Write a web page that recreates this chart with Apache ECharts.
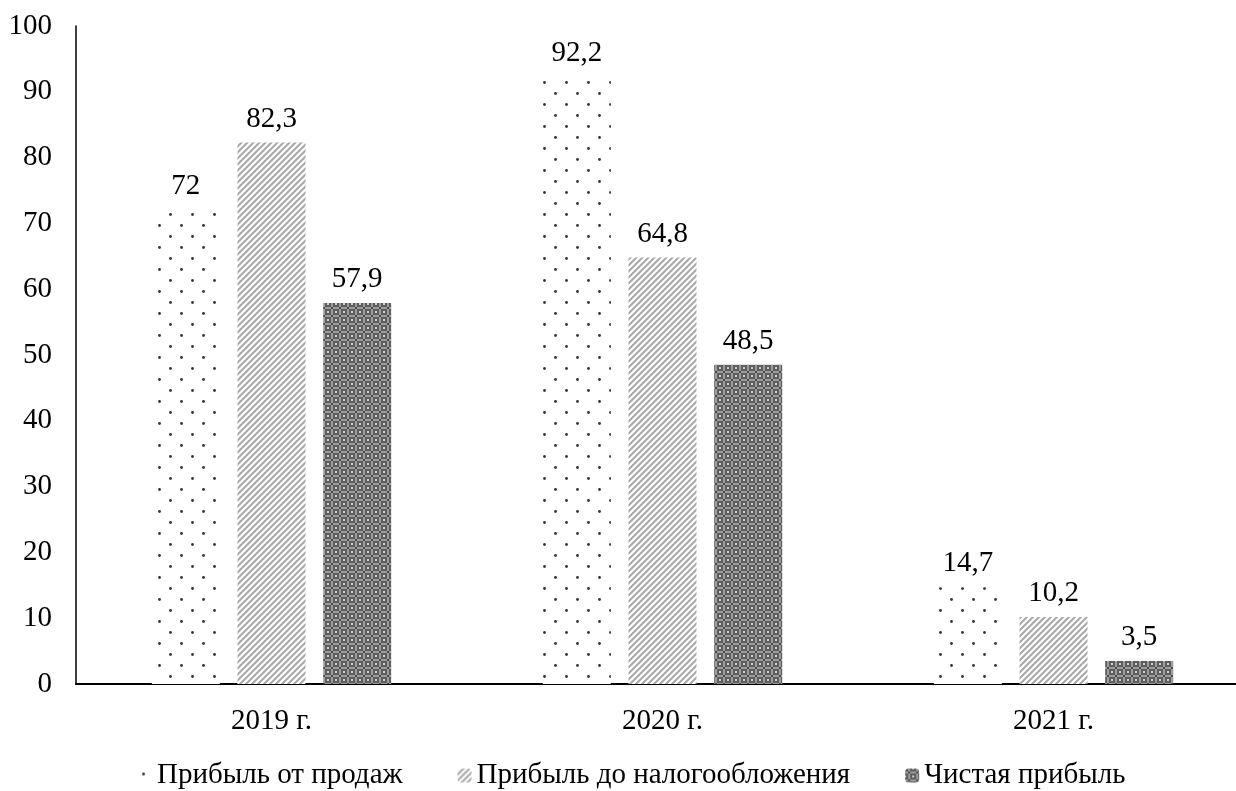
<!DOCTYPE html>
<html>
<head>
<meta charset="utf-8">
<script src="https://cdn.jsdelivr.net/npm/echarts@6/dist/echarts.min.js"></script>
<style>
html,body{margin:0;padding:0;background:#fff;overflow:hidden;width:1236px;height:791px;}
#chart{width:1249px;height:791px;}
</style>
</head>
<body>
<div id="chart"></div>
<script>
const categories = ['2019 г.', '2020 г.', '2021 г.'];
const seriesNames = ['Прибыль от продаж', 'Прибыль до налогообложения', 'Чистая прибыль'];
const salesProfit = [72, 92.2, 14.7];
const preTaxProfit = [82.3, 64.8, 10.2];
const netProfit = [57.9, 48.5, 3.5];
const yTicks = [0, 10, 20, 30, 40, 50, 60, 70, 80, 90, 100];

function makeTile(w, h, draw) {
  const c = document.createElement('canvas');
  c.width = w; c.height = h;
  const ctx = c.getContext('2d');
  draw(ctx, w, h);
  return c;
}
const dotsTile = makeTile(22, 22, (ctx) => {
  ctx.fillStyle = '#ffffff'; ctx.fillRect(0, 0, 22, 22);
  ctx.fillStyle = '#333333';
  ctx.beginPath(); ctx.arc(5.5, 5.5, 1.4, 0, Math.PI * 2); ctx.fill();
  ctx.beginPath(); ctx.arc(16.5, 16.5, 1.4, 0, Math.PI * 2); ctx.fill();
});
const stripeTile = makeTile(6, 6, (ctx) => {
  ctx.fillStyle = '#ffffff'; ctx.fillRect(0, 0, 6, 6);
  ctx.strokeStyle = '#a8a8a8'; ctx.lineWidth = 2;
  ctx.beginPath();
  ctx.moveTo(-1, 7); ctx.lineTo(7, -1);
  ctx.moveTo(-4, 4); ctx.lineTo(4, -4);
  ctx.moveTo(2, 10); ctx.lineTo(10, 2);
  ctx.stroke();
});
const crossTile = makeTile(8, 8, (ctx) => {
  ctx.fillStyle = '#5e5e5e'; ctx.fillRect(0, 0, 8, 8);
  ctx.fillStyle = '#9c9c9c';
  ctx.fillRect(3, 0, 2, 8);
  ctx.fillRect(0, 3, 8, 2);
  ctx.fillStyle = '#d0d0d0';
  ctx.fillRect(0, 0, 1, 1); ctx.fillRect(7, 7, 1, 1);
  ctx.fillRect(7, 0, 1, 1); ctx.fillRect(0, 7, 1, 1);
  ctx.fillStyle = '#4a4a4a';
  ctx.fillRect(3, 3, 2, 2);
});

const FONT = 'Liberation Serif';
const FS = 29;

function fmt(v) { return String(v).replace('.', ','); }

function bar(name, data, tile) {
  return {
    name: name,
    type: 'bar',
    data: data,
    barWidth: 68,
    barGap: '26%',
    itemStyle: { color: { image: tile, repeat: 'repeat' } },
    label: {
      show: true, position: 'top', distance: 9,
      fontFamily: FONT, fontSize: FS, color: '#000',
      formatter: (p) => fmt(p.value)
    }
  };
}

const chart = echarts.init(document.getElementById('chart'));
chart.setOption({
  animation: false,
  backgroundColor: '#fff',
  grid: { left: 76, right: 0, top: 26, bottom: 107, containLabel: false },
  legend: {
    top: 761, left: 138, padding: 0,
    itemWidth: 14, itemHeight: 14, itemGap: 55,
    textStyle: { fontFamily: FONT, fontSize: FS, color: '#000' },
    data: seriesNames
  },
  xAxis: {
    type: 'category', data: categories,
    axisLine: { lineStyle: { color: '#000', width: 2 } },
    axisTick: { show: false },
    axisLabel: { fontFamily: FONT, fontSize: FS, color: '#000', margin: 23 }
  },
  yAxis: {
    type: 'value', min: yTicks[0], max: yTicks[yTicks.length - 1], interval: 10,
    axisLine: { show: true, lineStyle: { color: '#000', width: 1.5 } },
    axisTick: { show: false },
    splitLine: { show: false },
    axisLabel: { fontFamily: FONT, fontSize: FS, color: '#000', margin: 24 }
  },
  series: [
    bar(seriesNames[0], salesProfit, dotsTile),
    bar(seriesNames[1], preTaxProfit, stripeTile),
    bar(seriesNames[2], netProfit, crossTile)
  ]
});
</script>
</body>
</html>
